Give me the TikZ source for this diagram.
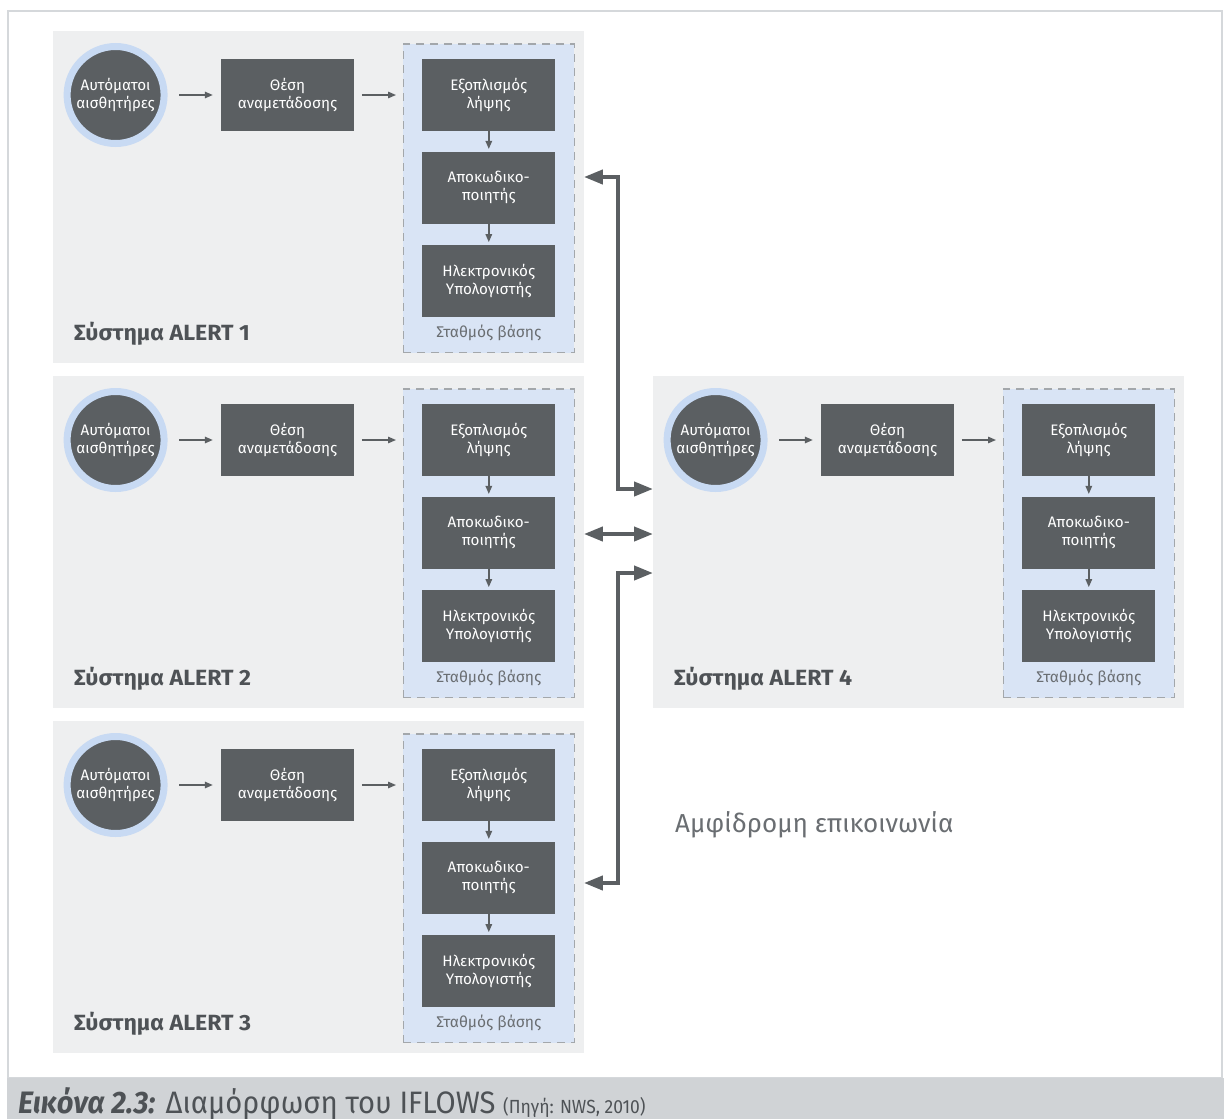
\documentclass[tikz,border=0pt]{standalone}
\usepackage{fontspec}
\setmainfont{Fira Sans}
\newfontfamily\capfont[FakeStretch=0.94]{Fira Sans}
\newfontfamily\srcfont[FakeStretch=0.92]{Fira Sans}
\newfontfamily\labfont[FakeStretch=1.05]{Fira Sans}
\usetikzlibrary{arrows.meta}
\definecolor{panelbg}{HTML}{EEEFF0}
\definecolor{basebg}{HTML}{D9E4F5}
\definecolor{dashcol}{HTML}{A3A7AB}
\definecolor{boxcol}{HTML}{5B5F62}
\definecolor{ringcol}{HTML}{C8DAF3}
\definecolor{txtdark}{HTML}{4E5256}
\definecolor{txtmid}{HTML}{6A6E72}
\definecolor{framecol}{HTML}{D5D8DB}
\definecolor{capbg}{HTML}{D0D3D6}
\newcommand\alertpanel[4]{%
\begin{scope}[shift={(#2,#3)}]
\node[panelbox] (#1panel) at (0,0) {};
\node[basebox] (#1base) at (349.6,12.3) {};
\node[sensor] (#1sens) at (62.6,64) {Αυτόματοι\\αισθητήρες};
\node[darkbox] (#1relay) at (234.5,64) {Θέση\\αναμετάδοσης};
\node[darkbox] (#1rx) at (435.8,64) {Εξοπλισμός\\λήψης};
\node[darkbox] (#1dec) at (435.8,156.8) {Αποκωδικο-\\ποιητής};
\node[darkbox] (#1pc) at (435.8,250) {Ηλεκτρονικός\\Υπολογιστής};
\node[basetext] (#1lbl) at (435.8,302) {Σταθμός βάσης};
\node[sysname] (#1name) at (21,303) {Σύστημα ALERT #4};
\draw[smallarrow] ([xshift=11.4pt]#1sens.east) -- ([xshift=-8pt]#1relay.west);
\draw[smallarrow] ([xshift=7.6pt]#1relay.east) -- ([xshift=-6.6pt]#1base.west |- #1relay.east);
\draw[smallarrow] (#1rx.south) -- ([yshift=3pt]#1dec.north);
\draw[smallarrow] (#1dec.south) -- ([yshift=3pt]#1pc.north);
\end{scope}}
\begin{document}
\begin{tikzpicture}[x=1pt,y=-1pt,
  panelbox/.style={fill=panelbg, draw=none, minimum width=530.5pt, minimum height=332pt, anchor=north west, inner sep=0pt},
  basebox/.style={fill=basebg, draw=dashcol, dash pattern=on 8pt off 6pt, line width=1.2pt, minimum width=171pt, minimum height=308.7pt, anchor=north west, inner sep=0pt},
  darkbox/.style={fill=boxcol, text=white, minimum width=133pt, minimum height=71.4pt, align=center, inner sep=0pt, font=\fontsize{15.2}{18}\selectfont},
  sensor/.style={circle, fill=boxcol, draw=ringcol, line width=7pt, minimum size=97pt, inner sep=0pt, align=center, text=white, font=\fontsize{15.2}{18}\selectfont},
  basetext/.style={text=txtmid, font=\fontsize{15.5}{18}\selectfont},
  sysname/.style={anchor=west, inner sep=0pt, text=txtdark, font=\labfont\fontsize{22}{24}\selectfont\bfseries},
  smallarrow/.style={draw=boxcol, line width=1.4pt, -{Triangle[length=8pt,width=6.5pt]}},
  bigarrow/.style={draw=boxcol, line width=4pt, {Triangle[length=19pt,width=14pt]}-{Triangle[length=19pt,width=14pt]}}
]
\useasboundingbox (0,0) rectangle (1224,1119);
\fill[white] (0,0) rectangle (1224,1119);
\draw[framecol, line width=2.5pt] (8,11) rectangle (1222,1078);
\fill[capbg] (7,1078) rectangle (1224,1119);
\alertpanel{pa}{53}{31}{1}
\alertpanel{pb}{53}{376}{2}
\alertpanel{pc}{53}{721}{3}
\alertpanel{pd}{653}{376}{4}
\draw[bigarrow] (papanel.east |- 0,177) -| (618,489) -- (pdpanel.west |- 0,489);
\draw[bigarrow] (pbpanel.east |- 0,534) -- (pdpanel.west |- 0,534);
\draw[bigarrow] (pdpanel.west |- 0,573) -| (618,883) -- (pcpanel.east |- 0,883);
\node[anchor=west, inner sep=0pt, text=txtmid, font=\fontsize{26}{30}\selectfont] (twoway) at (675,825) {Αμφίδρομη επικοινωνία};
\node[anchor=base west, text=txtdark, inner sep=0pt] (caption) at (18,1113) {\capfont\fontsize{31}{34}\selectfont{\bfseries\itshape Εικόνα 2.3:} Διαμόρφωση του IFLOWS {\srcfont\fontsize{19}{22}\selectfont (Πηγή: NWS, 2010)}};
\end{tikzpicture}
\end{document}
